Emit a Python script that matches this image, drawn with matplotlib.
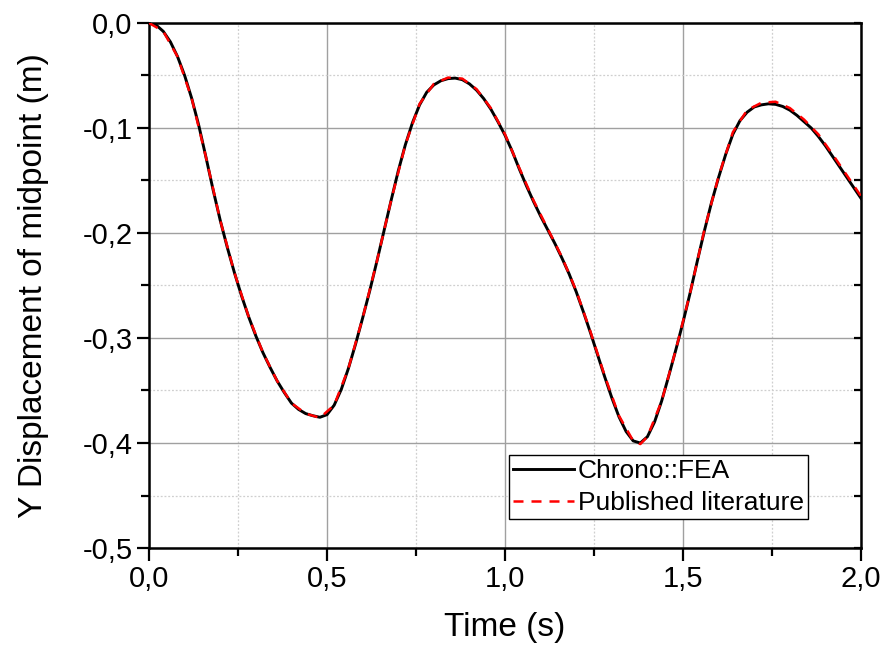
import numpy as np
import matplotlib
matplotlib.use("Agg")
import matplotlib.pyplot as plt
from matplotlib.ticker import MultipleLocator, FuncFormatter

plt.rcParams['font.family'] = ['Liberation Sans', 'DejaVu Sans']
plt.rcParams['axes.unicode_minus'] = False

# midpoint displacement, Chrono::FEA run
t_fea = [0.00, 0.02, 0.04, 0.06, 0.08, 0.10, 0.12, 0.14, 0.16, 0.18,
         0.20, 0.22, 0.24, 0.26, 0.28, 0.30, 0.32, 0.34, 0.36, 0.38,
         0.40, 0.42, 0.44, 0.46, 0.48, 0.50, 0.52, 0.54, 0.56, 0.58,
         0.60, 0.62, 0.64, 0.66, 0.68, 0.70, 0.72, 0.74, 0.76, 0.78,
         0.80, 0.82, 0.84, 0.86, 0.88, 0.90, 0.92, 0.94, 0.96, 0.98,
         1.00, 1.02, 1.04, 1.06, 1.08, 1.10, 1.12, 1.14, 1.16, 1.18,
         1.20, 1.22, 1.24, 1.26, 1.28, 1.30, 1.32, 1.34, 1.36, 1.38,
         1.40, 1.42, 1.44, 1.46, 1.48, 1.50, 1.52, 1.54, 1.56, 1.58,
         1.60, 1.62, 1.64, 1.66, 1.68, 1.70, 1.72, 1.74, 1.76, 1.78,
         1.80, 1.82, 1.84, 1.86, 1.88, 1.90, 1.92, 1.94, 1.96, 1.98, 2.00]
y_fea = [0.000, -0.002, -0.008, -0.018, -0.032, -0.050, -0.072, -0.098, -0.128, -0.159,
         -0.188, -0.214, -0.238, -0.260, -0.280, -0.298, -0.314, -0.328, -0.341, -0.352,
         -0.362, -0.368, -0.372, -0.374, -0.3755, -0.373, -0.364, -0.349, -0.329, -0.306,
         -0.281, -0.255, -0.227, -0.198, -0.169, -0.141, -0.116, -0.095, -0.078, -0.066,
         -0.059, -0.055, -0.053, -0.0525, -0.054, -0.058, -0.064, -0.072, -0.082, -0.094,
         -0.107, -0.122, -0.139, -0.155, -0.170, -0.184, -0.197, -0.210, -0.224, -0.239,
         -0.256, -0.275, -0.295, -0.316, -0.337, -0.357, -0.375, -0.389, -0.398, -0.400,
         -0.394, -0.380, -0.360, -0.336, -0.311, -0.285, -0.257, -0.227, -0.198, -0.171,
         -0.147, -0.125, -0.106, -0.093, -0.085, -0.080, -0.078, -0.077, -0.0775, -0.0795,
         -0.083, -0.088, -0.094, -0.100, -0.108, -0.117, -0.127, -0.137, -0.147, -0.157, -0.167]

# reference solution from the literature
t_lit = [0.00, 0.04, 0.08, 0.12, 0.16, 0.20, 0.24, 0.28, 0.32, 0.36,
         0.40, 0.44, 0.48, 0.52, 0.56, 0.60, 0.64, 0.68, 0.72, 0.76,
         0.80, 0.84, 0.88, 0.92, 0.96, 1.00, 1.04, 1.08, 1.12, 1.16,
         1.20, 1.24, 1.28, 1.32, 1.36, 1.38, 1.40, 1.44, 1.48, 1.52,
         1.56, 1.60, 1.64, 1.68, 1.72, 1.76, 1.80, 1.84, 1.88, 1.92, 1.96, 2.00]
y_lit = [0.000, -0.008, -0.032, -0.072, -0.128, -0.188, -0.238, -0.280, -0.314, -0.341,
         -0.362, -0.372, -0.376, -0.364, -0.329, -0.281, -0.227, -0.169, -0.116, -0.077,
         -0.058, -0.052, -0.053, -0.063, -0.081, -0.106, -0.138, -0.169, -0.196, -0.223,
         -0.255, -0.294, -0.336, -0.374, -0.398, -0.401, -0.394, -0.360, -0.311, -0.257,
         -0.197, -0.146, -0.104, -0.083, -0.076, -0.075, -0.081, -0.092, -0.106, -0.125, -0.145, -0.165]

fig = plt.figure(figsize=(8.84, 6.47), dpi=100)
ax = fig.add_axes([0.1686, 0.153, 0.8054, 0.8115])

ax.plot(t_fea, y_fea, color='black', lw=2.1, label='Chrono::FEA', zorder=3)
ax.plot(t_lit, y_lit, color='red', lw=1.8, ls=(0, (4, 3.2)), label='Published literature', zorder=4)

ax.set_xlim(0, 2.0)
ax.set_ylim(-0.5, 0.0)
ax.xaxis.set_major_locator(MultipleLocator(0.5))
ax.xaxis.set_minor_locator(MultipleLocator(0.25))
ax.yaxis.set_major_locator(MultipleLocator(0.1))
ax.yaxis.set_minor_locator(MultipleLocator(0.05))
comma = FuncFormatter(lambda v, pos: f"{v:.1f}".replace('.', ','))
ax.xaxis.set_major_formatter(comma)
ax.yaxis.set_major_formatter(comma)

# grid: solid for major, dotted for minor
ax.grid(True, which='major', color='#a0a0a0', lw=1.0, ls='-', zorder=0)
ax.grid(True, which='minor', color='#cfcfcf', lw=0.9, ls=(0, (1.5, 1.5)), zorder=0)
ax.set_axisbelow(True)

for sp in ax.spines.values():
    sp.set_linewidth(1.8)

ax.tick_params(which='both', direction='out', width=1.6, labelsize=21,
               left=True, bottom=True, right=False, top=False)
ax.tick_params(which='major', length=9, pad=3)
ax.tick_params(which='minor', length=6)

# inward ticks on the right spine
ax2 = ax.twinx()
ax2.set_ylim(ax.get_ylim())
ax2.yaxis.set_major_locator(MultipleLocator(0.1))
ax2.yaxis.set_minor_locator(MultipleLocator(0.05))
ax2.tick_params(which='both', direction='in', length=5, width=1.6, labelright=False)
for sp in ax2.spines.values():
    sp.set_visible(False)

ax.set_xlabel('Time (s)', fontsize=24, labelpad=14)
ax.set_ylabel('Y Displacement of midpoint (m)', fontsize=24, labelpad=24)

leg = ax.legend(loc='lower left', bbox_to_anchor=(0.506, 0.055), fontsize=19,
                frameon=True, fancybox=False, framealpha=1, edgecolor='black',
                handlelength=2.3, handletextpad=0.15, labelspacing=0.3,
                borderpad=0.15, borderaxespad=0)
leg.get_frame().set_linewidth(1.0)
leg.set_zorder(10)

fig.savefig('out.png', dpi=100)
